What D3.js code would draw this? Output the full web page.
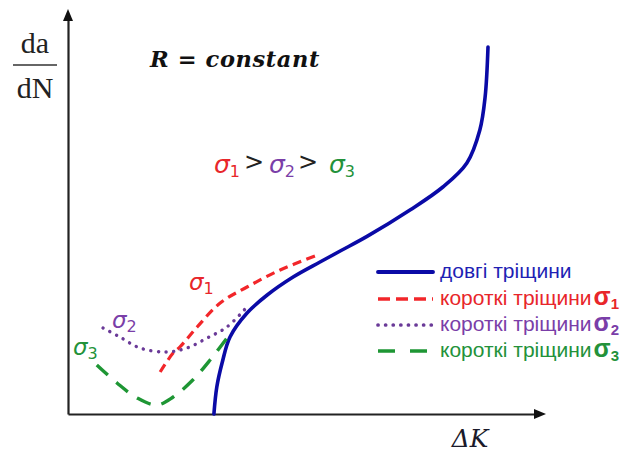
<!DOCTYPE html>
<html>
<head>
<meta charset="utf-8">
<script src="https://cdn.jsdelivr.net/npm/d3@7"></script>
<style>
  html, body { margin: 0; padding: 0; background: #fff; }
  svg { display: block; }
</style>
</head>
<body>
<svg id="chart" width="624" height="454"></svg>
<script>
// Crack growth rate da/dN versus stress intensity range ΔK (schematic units, 0–100)
const longDK    = [30.4, 31.0, 32.1, 33.75, 37.3, 41.5, 46.9, 52.5, 56.7, 62.3, 71.25, 78.1, 83.1, 85.8, 86.9, 87.5];
const longRate  = [0,    6.75, 12.75, 19.25, 25.25, 29.75, 34.25, 38, 40.75, 44.4, 51, 56.75, 62.75, 71, 79.25, 91.75];

const short1DK   = [19.2, 21.9, 23.3, 26.9, 31.7, 37.3, 44.2, 51.5];
const short1Rate = [10.5, 15.25, 16.75, 21.75, 27.75, 31.75, 36, 39.5];

const short2DK   = [7.3, 10.8, 15, 20.6, 24.8, 29, 33.1, 36.9];
const short2Rate = [21.5, 19.25, 16.5, 15.5, 16.5, 19, 21.75, 26.25];

const short3DK   = [6, 10.2, 14.4, 18.5, 21.9, 26, 29.6, 34.2];
const short3Rate = [12.25, 7.75, 4, 2.25, 4.25, 8.5, 13.5, 20.75];

const legendLabels = ["довгі тріщини", "короткі тріщини", "короткі тріщини", "короткі тріщини"];
const legendSubs   = ["", "1", "2", "3"];

const svg = d3.select("#chart");

const x = d3.scaleLinear().domain([0, 100]).range([68, 548]);
const y = d3.scaleLinear().domain([0, 100]).range([414, 14]);
// axis line stops short of the arrow tip
const xAxisScale = x.copy().range([68, 537]);

// series appearance
const styles = [
  { color: "#0a0aa6", width: 3.6, dash: null,      cap: "round" },
  { color: "#f2262a", width: 3.2, dash: "9,5.5",   cap: "butt"  },
  { color: "#6a3a98", width: 3.4, dash: "0.1,7.5", cap: "round" },
  { color: "#1e9634", width: 3.4, dash: "15,11",   cap: "butt"  }
];
const textColors = ["#1f1fb4", "#e8262a", "#7a3ea8", "#23923a"];

const series = [
  d3.zip(longDK, longRate),
  d3.zip(short1DK, short1Rate),
  d3.zip(short2DK, short2Rate),
  d3.zip(short3DK, short3Rate)
];

// axes
const axisX = d3.axisBottom(xAxisScale).tickValues([]).tickSize(0);
const axisY = d3.axisLeft(y).tickValues([]).tickSize(0);

svg.append("g").attr("transform", `translate(0,${y(0)})`).call(axisX)
  .select(".domain").attr("stroke", "#222").attr("stroke-width", 2.2);
svg.append("g").attr("transform", `translate(${x(0)},0)`).call(axisY)
  .select(".domain").attr("stroke", "#222").attr("stroke-width", 2.2);

// arrowheads
const xEnd = xAxisScale.range()[1];
svg.append("path")
  .attr("d", `M${xEnd - 3},${y(0) - 5} L${xEnd - 3},${y(0) + 5} L${xEnd + 9},${y(0)} z`)
  .attr("fill", "#111");
svg.append("path")
  .attr("d", `M${x(0) - 5},${y(100) + 7} L${x(0) + 5},${y(100) + 7} L${x(0)},${y(100) - 5} z`)
  .attr("fill", "#111");

// curves
const line = d3.line()
  .x(d => x(d[0]))
  .y(d => y(d[1]))
  .curve(d3.curveCatmullRom.alpha(0.5));

series.forEach((pts, i) => {
  const s = styles[i];
  svg.append("path")
    .datum(pts)
    .attr("d", line)
    .attr("fill", "none")
    .attr("stroke", s.color)
    .attr("stroke-width", s.width)
    .attr("stroke-linecap", s.cap)
    .attr("stroke-dasharray", s.dash);
});

// axis titles
const serif = "'Liberation Serif', 'DejaVu Serif', serif";
svg.append("text").attr("x", 35).attr("y", 53).attr("text-anchor", "middle")
  .attr("font-family", serif).attr("font-size", 30).attr("fill", "#222").text("da");
svg.append("line").attr("x1", 13).attr("x2", 57).attr("y1", 65).attr("y2", 65)
  .attr("stroke", "#333").attr("stroke-width", 1.3);
svg.append("text").attr("x", 35).attr("y", 98).attr("text-anchor", "middle")
  .attr("font-family", serif).attr("font-size", 30).attr("fill", "#222").text("dN");

svg.append("text").attr("x", 470).attr("y", 447).attr("text-anchor", "middle")
  .attr("font-family", "'DejaVu Serif', serif").attr("font-style", "italic").attr("font-size", 25).attr("fill", "#1a1a2a")
  .text("ΔK");

svg.append("text").attr("x", 150).attr("y", 67)
  .attr("font-family", "'DejaVu Serif', serif").attr("font-style", "italic").attr("font-weight", "bold")
  .attr("font-size", 22.5).attr("letter-spacing", 0.6).attr("fill", "#111")
  .text("R = constant");

// sigma ordering
const sigFont = "'DejaVu Sans', sans-serif";
function sigma(t, sub, color) {
  t.append("tspan").attr("fill", color).attr("font-style", "italic").text("σ");
  t.append("tspan").attr("fill", color).attr("font-size", 16).attr("dy", 4).text(sub);
}
const orderParts = [
  { sub: "1", px: 214 }, { gt: true, px: 244 },
  { sub: "2", px: 269 }, { gt: true, px: 298 },
  { sub: "3", px: 329 }
];
orderParts.forEach(p => {
  const t = svg.append("text").attr("x", p.px).attr("y", 173)
    .attr("font-family", sigFont).attr("font-size", 25);
  if (p.gt) t.attr("fill", "#222").attr("font-size", 24).attr("y", 170).text(">");
  else sigma(t, p.sub, textColors[+p.sub]);
});

// curve labels
const curveLabels = [
  { i: 1, px: 189, py: 290 },
  { i: 2, px: 112, py: 328 },
  { i: 3, px: 73,  py: 355 }
];
curveLabels.forEach(c => {
  const t = svg.append("text").attr("x", c.px).attr("y", c.py)
    .attr("font-family", sigFont).attr("font-size", 23);
  sigma(t, legendSubs[c.i], textColors[c.i]);
});

// legend
const legendRows = [272, 299, 325, 351];
const legend = svg.append("g");
legendLabels.forEach((lab, i) => {
  const s = styles[i];
  legend.append("line")
    .attr("x1", 378).attr("x2", 433).attr("y1", legendRows[i]).attr("y2", legendRows[i])
    .attr("stroke", s.color).attr("stroke-width", s.width + 0.3)
    .attr("stroke-linecap", s.cap)
    .attr("stroke-dasharray", i === 1 ? "12,6" : i === 3 ? "17,15" : s.dash);
  const t = legend.append("text").attr("x", 440).attr("y", legendRows[i] + 6)
    .attr("font-family", "'Liberation Sans', Arial, sans-serif").attr("font-size", 21)
    .attr("fill", textColors[i]).text(lab);
  if (legendSubs[i]) {
    t.append("tspan").attr("dx", 2).attr("font-weight", "bold").attr("font-size", 25).text("σ");
    t.append("tspan").attr("font-weight", "bold").attr("font-size", 15).attr("dy", 4).text(legendSubs[i]);
  }
});
</script>
</body>
</html>
